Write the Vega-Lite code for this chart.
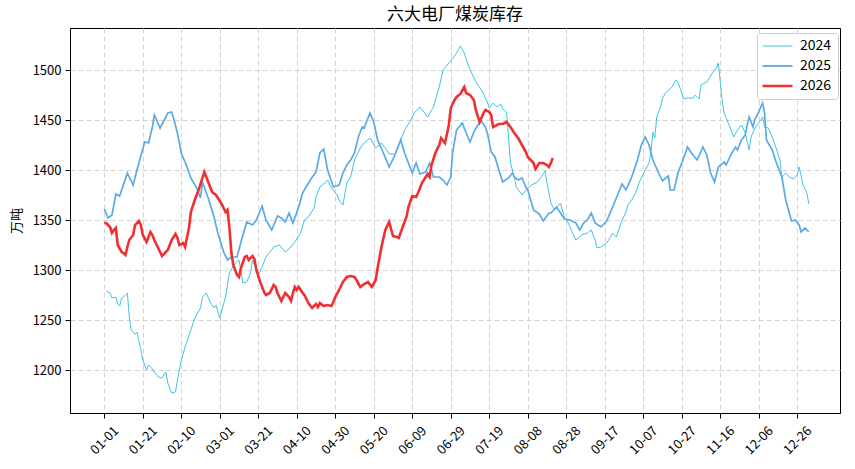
{
  "$schema": "https://vega.github.io/schema/vega-lite/v6.json",
  "width": 770,
  "height": 385,
  "autosize": "none",
  "padding": {"left": 70, "top": 28, "right": 15, "bottom": 56},
  "background": "white",
  "config": {
    "font": "Noto Sans CJK SC",
    "view": {"stroke": "black", "strokeWidth": 1}
  },
  "title": {"text": "六大电厂煤炭库存", "fontSize": 17, "fontWeight": "normal", "color": "black", "offset": 4},
  "data": {"values": [
    {"series":"2024","day":1,"value":1279},{"series":"2024","day":3,"value":1277},{"series":"2024","day":4,"value":1272},{"series":"2024","day":6,"value":1273},{"series":"2024","day":7,"value":1266},{"series":"2024","day":8,"value":1264},{"series":"2024","day":9,"value":1272},{"series":"2024","day":10,"value":1273},{"series":"2024","day":12,"value":1277},{"series":"2024","day":13,"value":1253},{"series":"2024","day":14,"value":1240},{"series":"2024","day":16,"value":1236},{"series":"2024","day":17,"value":1238},{"series":"2024","day":19,"value":1220},{"series":"2024","day":20,"value":1210},{"series":"2024","day":22,"value":1200},{"series":"2024","day":23,"value":1205},{"series":"2024","day":25,"value":1201},{"series":"2024","day":26,"value":1198},{"series":"2024","day":28,"value":1193},{"series":"2024","day":30,"value":1192},{"series":"2024","day":32,"value":1198},{"series":"2024","day":33,"value":1187},{"series":"2024","day":35,"value":1177},{"series":"2024","day":37,"value":1178},{"series":"2024","day":38,"value":1190},{"series":"2024","day":40,"value":1210},{"series":"2024","day":42,"value":1223},{"series":"2024","day":45,"value":1240},{"series":"2024","day":47,"value":1252},{"series":"2024","day":50,"value":1262},{"series":"2024","day":51,"value":1273},{"series":"2024","day":53,"value":1277},{"series":"2024","day":55,"value":1268},{"series":"2024","day":57,"value":1262},{"series":"2024","day":58,"value":1265},{"series":"2024","day":60,"value":1252},{"series":"2024","day":63,"value":1273},{"series":"2024","day":65,"value":1297},{"series":"2024","day":68,"value":1307},{"series":"2024","day":70,"value":1310},{"series":"2024","day":72,"value":1287},{"series":"2024","day":74,"value":1288},{"series":"2024","day":76,"value":1297},{"series":"2024","day":77,"value":1310},{"series":"2024","day":80,"value":1295},{"series":"2024","day":82,"value":1303},{"series":"2024","day":84,"value":1313},{"series":"2024","day":88,"value":1323},{"series":"2024","day":91,"value":1325},{"series":"2024","day":94,"value":1318},{"series":"2024","day":97,"value":1323},{"series":"2024","day":99,"value":1328},{"series":"2024","day":102,"value":1337},{"series":"2024","day":104,"value":1350},{"series":"2024","day":106,"value":1353},{"series":"2024","day":109,"value":1362},{"series":"2024","day":110,"value":1373},{"series":"2024","day":112,"value":1383},{"series":"2024","day":114,"value":1386},{"series":"2024","day":116,"value":1390},{"series":"2024","day":118,"value":1382},{"series":"2024","day":121,"value":1375},{"series":"2024","day":122,"value":1370},{"series":"2024","day":124,"value":1365},{"series":"2024","day":126,"value":1387},{"series":"2024","day":128,"value":1393},{"series":"2024","day":130,"value":1410},{"series":"2024","day":133,"value":1422},{"series":"2024","day":135,"value":1427},{"series":"2024","day":138,"value":1432},{"series":"2024","day":141,"value":1422},{"series":"2024","day":144,"value":1427},{"series":"2024","day":146,"value":1422},{"series":"2024","day":148,"value":1416},{"series":"2024","day":151,"value":1416},{"series":"2024","day":154,"value":1430},{"series":"2024","day":156,"value":1440},{"series":"2024","day":159,"value":1449},{"series":"2024","day":161,"value":1457},{"series":"2024","day":164,"value":1463},{"series":"2024","day":166,"value":1458},{"series":"2024","day":168,"value":1453},{"series":"2024","day":171,"value":1463},{"series":"2024","day":174,"value":1483},{"series":"2024","day":176,"value":1500},{"series":"2024","day":179,"value":1507},{"series":"2024","day":180,"value":1509},{"series":"2024","day":183,"value":1517},{"series":"2024","day":185,"value":1524},{"series":"2024","day":187,"value":1517},{"series":"2024","day":189,"value":1505},{"series":"2024","day":192,"value":1492},{"series":"2024","day":194,"value":1485},{"series":"2024","day":196,"value":1480},{"series":"2024","day":199,"value":1468},{"series":"2024","day":200,"value":1462},{"series":"2024","day":202,"value":1467},{"series":"2024","day":204,"value":1463},{"series":"2024","day":206,"value":1466},{"series":"2024","day":207,"value":1461},{"series":"2024","day":209,"value":1458},{"series":"2024","day":211,"value":1407},{"series":"2024","day":213,"value":1393},{"series":"2024","day":214,"value":1383},{"series":"2024","day":216,"value":1378},{"series":"2024","day":217,"value":1375},{"series":"2024","day":220,"value":1382},{"series":"2024","day":222,"value":1385},{"series":"2024","day":225,"value":1388},{"series":"2024","day":227,"value":1393},{"series":"2024","day":229,"value":1399},{"series":"2024","day":230,"value":1387},{"series":"2024","day":232,"value":1367},{"series":"2024","day":234,"value":1360},{"series":"2024","day":237,"value":1367},{"series":"2024","day":239,"value":1353},{"series":"2024","day":241,"value":1347},{"series":"2024","day":243,"value":1338},{"series":"2024","day":245,"value":1330},{"series":"2024","day":248,"value":1335},{"series":"2024","day":251,"value":1337},{"series":"2024","day":253,"value":1340},{"series":"2024","day":255,"value":1330},{"series":"2024","day":256,"value":1322},{"series":"2024","day":258,"value":1323},{"series":"2024","day":261,"value":1327},{"series":"2024","day":263,"value":1333},{"series":"2024","day":264,"value":1337},{"series":"2024","day":266,"value":1333},{"series":"2024","day":269,"value":1350},{"series":"2024","day":271,"value":1358},{"series":"2024","day":272,"value":1365},{"series":"2024","day":274,"value":1370},{"series":"2024","day":276,"value":1377},{"series":"2024","day":278,"value":1388},{"series":"2024","day":281,"value":1400},{"series":"2024","day":283,"value":1407},{"series":"2024","day":284,"value":1417},{"series":"2024","day":285,"value":1438},{"series":"2024","day":286,"value":1432},{"series":"2024","day":287,"value":1453},{"series":"2024","day":289,"value":1463},{"series":"2024","day":290,"value":1472},{"series":"2024","day":292,"value":1478},{"series":"2024","day":295,"value":1483},{"series":"2024","day":297,"value":1490},{"series":"2024","day":298,"value":1488},{"series":"2024","day":300,"value":1477},{"series":"2024","day":301,"value":1471},{"series":"2024","day":303,"value":1472},{"series":"2024","day":306,"value":1472},{"series":"2024","day":307,"value":1475},{"series":"2024","day":309,"value":1471},{"series":"2024","day":310,"value":1485},{"series":"2024","day":313,"value":1488},{"series":"2024","day":316,"value":1497},{"series":"2024","day":318,"value":1502},{"series":"2024","day":319,"value":1507},{"series":"2024","day":321,"value":1469},{"series":"2024","day":322,"value":1457},{"series":"2024","day":325,"value":1443},{"series":"2024","day":327,"value":1433},{"series":"2024","day":329,"value":1440},{"series":"2024","day":331,"value":1445},{"series":"2024","day":333,"value":1437},{"series":"2024","day":335,"value":1420},{"series":"2024","day":336,"value":1433},{"series":"2024","day":338,"value":1442},{"series":"2024","day":340,"value":1447},{"series":"2024","day":342,"value":1453},{"series":"2024","day":343,"value":1443},{"series":"2024","day":345,"value":1442},{"series":"2024","day":347,"value":1433},{"series":"2024","day":349,"value":1422},{"series":"2024","day":351,"value":1410},{"series":"2024","day":352,"value":1393},{"series":"2024","day":354,"value":1397},{"series":"2024","day":356,"value":1393},{"series":"2024","day":358,"value":1391},{"series":"2024","day":360,"value":1395},{"series":"2024","day":361,"value":1403},{"series":"2024","day":363,"value":1385},{"series":"2024","day":365,"value":1377},{"series":"2024","day":366,"value":1366},
    {"series":"2025","day":0,"value":1361},{"series":"2025","day":2,"value":1352},{"series":"2025","day":4,"value":1355},{"series":"2025","day":6,"value":1376},{"series":"2025","day":8,"value":1374},{"series":"2025","day":12,"value":1397},{"series":"2025","day":15,"value":1385},{"series":"2025","day":17,"value":1400},{"series":"2025","day":21,"value":1428},{"series":"2025","day":23,"value":1427},{"series":"2025","day":25,"value":1443},{"series":"2025","day":26,"value":1455},{"series":"2025","day":29,"value":1442},{"series":"2025","day":32,"value":1453},{"series":"2025","day":33,"value":1457},{"series":"2025","day":35,"value":1458},{"series":"2025","day":36,"value":1452},{"series":"2025","day":38,"value":1437},{"series":"2025","day":40,"value":1417},{"series":"2025","day":43,"value":1403},{"series":"2025","day":45,"value":1392},{"series":"2025","day":48,"value":1382},{"series":"2025","day":50,"value":1372},{"series":"2025","day":51,"value":1388},{"series":"2025","day":54,"value":1372},{"series":"2025","day":57,"value":1353},{"series":"2025","day":59,"value":1337},{"series":"2025","day":62,"value":1318},{"series":"2025","day":64,"value":1310},{"series":"2025","day":66,"value":1313},{"series":"2025","day":69,"value":1313},{"series":"2025","day":71,"value":1328},{"series":"2025","day":74,"value":1348},{"series":"2025","day":77,"value":1345},{"series":"2025","day":79,"value":1350},{"series":"2025","day":82,"value":1364},{"series":"2025","day":84,"value":1350},{"series":"2025","day":87,"value":1340},{"series":"2025","day":90,"value":1354},{"series":"2025","day":92,"value":1352},{"series":"2025","day":94,"value":1348},{"series":"2025","day":96,"value":1357},{"series":"2025","day":98,"value":1347},{"series":"2025","day":101,"value":1363},{"series":"2025","day":103,"value":1377},{"series":"2025","day":107,"value":1390},{"series":"2025","day":110,"value":1398},{"series":"2025","day":112,"value":1417},{"series":"2025","day":114,"value":1421},{"series":"2025","day":116,"value":1400},{"series":"2025","day":119,"value":1383},{"series":"2025","day":122,"value":1385},{"series":"2025","day":124,"value":1397},{"series":"2025","day":126,"value":1405},{"series":"2025","day":128,"value":1410},{"series":"2025","day":130,"value":1417},{"series":"2025","day":132,"value":1433},{"series":"2025","day":134,"value":1443},{"series":"2025","day":135,"value":1442},{"series":"2025","day":138,"value":1457},{"series":"2025","day":140,"value":1448},{"series":"2025","day":142,"value":1430},{"series":"2025","day":145,"value":1417},{"series":"2025","day":148,"value":1403},{"series":"2025","day":151,"value":1415},{"series":"2025","day":154,"value":1430},{"series":"2025","day":156,"value":1417},{"series":"2025","day":160,"value":1397},{"series":"2025","day":162,"value":1407},{"series":"2025","day":164,"value":1396},{"series":"2025","day":167,"value":1398},{"series":"2025","day":169,"value":1407},{"series":"2025","day":171,"value":1393},{"series":"2025","day":174,"value":1393},{"series":"2025","day":176,"value":1390},{"series":"2025","day":178,"value":1385},{"series":"2025","day":180,"value":1393},{"series":"2025","day":181,"value":1418},{"series":"2025","day":183,"value":1440},{"series":"2025","day":186,"value":1447},{"series":"2025","day":188,"value":1437},{"series":"2025","day":190,"value":1428},{"series":"2025","day":192,"value":1438},{"series":"2025","day":194,"value":1445},{"series":"2025","day":196,"value":1449},{"series":"2025","day":198,"value":1443},{"series":"2025","day":199,"value":1437},{"series":"2025","day":201,"value":1418},{"series":"2025","day":203,"value":1413},{"series":"2025","day":205,"value":1400},{"series":"2025","day":207,"value":1388},{"series":"2025","day":210,"value":1392},{"series":"2025","day":212,"value":1397},{"series":"2025","day":213,"value":1393},{"series":"2025","day":215,"value":1390},{"series":"2025","day":217,"value":1392},{"series":"2025","day":219,"value":1383},{"series":"2025","day":220,"value":1380},{"series":"2025","day":223,"value":1360},{"series":"2025","day":226,"value":1356},{"series":"2025","day":228,"value":1349},{"series":"2025","day":231,"value":1357},{"series":"2025","day":232,"value":1357},{"series":"2025","day":235,"value":1363},{"series":"2025","day":237,"value":1357},{"series":"2025","day":239,"value":1351},{"series":"2025","day":242,"value":1350},{"series":"2025","day":245,"value":1347},{"series":"2025","day":247,"value":1340},{"series":"2025","day":249,"value":1347},{"series":"2025","day":251,"value":1350},{"series":"2025","day":253,"value":1357},{"series":"2025","day":255,"value":1347},{"series":"2025","day":258,"value":1343},{"series":"2025","day":261,"value":1349},{"series":"2025","day":263,"value":1358},{"series":"2025","day":266,"value":1372},{"series":"2025","day":269,"value":1386},{"series":"2025","day":271,"value":1380},{"series":"2025","day":274,"value":1393},{"series":"2025","day":277,"value":1410},{"series":"2025","day":279,"value":1425},{"series":"2025","day":281,"value":1433},{"series":"2025","day":283,"value":1425},{"series":"2025","day":285,"value":1410},{"series":"2025","day":288,"value":1397},{"series":"2025","day":290,"value":1389},{"series":"2025","day":293,"value":1394},{"series":"2025","day":294,"value":1380},{"series":"2025","day":296,"value":1380},{"series":"2025","day":298,"value":1397},{"series":"2025","day":301,"value":1412},{"series":"2025","day":303,"value":1423},{"series":"2025","day":305,"value":1417},{"series":"2025","day":308,"value":1410},{"series":"2025","day":311,"value":1423},{"series":"2025","day":313,"value":1415},{"series":"2025","day":315,"value":1397},{"series":"2025","day":317,"value":1388},{"series":"2025","day":319,"value":1403},{"series":"2025","day":322,"value":1408},{"series":"2025","day":323,"value":1405},{"series":"2025","day":326,"value":1417},{"series":"2025","day":328,"value":1423},{"series":"2025","day":329,"value":1420},{"series":"2025","day":331,"value":1430},{"series":"2025","day":333,"value":1435},{"series":"2025","day":334,"value":1445},{"series":"2025","day":335,"value":1453},{"series":"2025","day":337,"value":1443},{"series":"2025","day":338,"value":1451},{"series":"2025","day":339,"value":1454},{"series":"2025","day":341,"value":1463},{"series":"2025","day":342,"value":1467},{"series":"2025","day":343,"value":1457},{"series":"2025","day":344,"value":1430},{"series":"2025","day":347,"value":1420},{"series":"2025","day":349,"value":1408},{"series":"2025","day":352,"value":1393},{"series":"2025","day":354,"value":1370},{"series":"2025","day":357,"value":1349},{"series":"2025","day":359,"value":1350},{"series":"2025","day":361,"value":1345},{"series":"2025","day":362,"value":1338},{"series":"2025","day":364,"value":1342},{"series":"2025","day":366,"value":1338},
    {"series":"2026","day":0,"value":1347},{"series":"2026","day":1,"value":1347},{"series":"2026","day":3,"value":1343},{"series":"2026","day":4,"value":1337},{"series":"2026","day":5,"value":1340},{"series":"2026","day":6,"value":1342},{"series":"2026","day":7,"value":1325},{"series":"2026","day":9,"value":1318},{"series":"2026","day":10,"value":1317},{"series":"2026","day":11,"value":1315},{"series":"2026","day":12,"value":1323},{"series":"2026","day":13,"value":1330},{"series":"2026","day":15,"value":1335},{"series":"2026","day":16,"value":1345},{"series":"2026","day":18,"value":1349},{"series":"2026","day":19,"value":1345},{"series":"2026","day":20,"value":1335},{"series":"2026","day":22,"value":1328},{"series":"2026","day":23,"value":1333},{"series":"2026","day":24,"value":1338},{"series":"2026","day":25,"value":1335},{"series":"2026","day":26,"value":1330},{"series":"2026","day":28,"value":1322},{"series":"2026","day":30,"value":1314},{"series":"2026","day":32,"value":1318},{"series":"2026","day":33,"value":1320},{"series":"2026","day":35,"value":1330},{"series":"2026","day":37,"value":1336},{"series":"2026","day":38,"value":1332},{"series":"2026","day":39,"value":1325},{"series":"2026","day":41,"value":1327},{"series":"2026","day":42,"value":1323},{"series":"2026","day":44,"value":1342},{"series":"2026","day":45,"value":1358},{"series":"2026","day":47,"value":1370},{"series":"2026","day":49,"value":1380},{"series":"2026","day":51,"value":1392},{"series":"2026","day":52,"value":1398},{"series":"2026","day":54,"value":1388},{"series":"2026","day":56,"value":1378},{"series":"2026","day":58,"value":1375},{"series":"2026","day":59,"value":1372},{"series":"2026","day":61,"value":1366},{"series":"2026","day":63,"value":1358},{"series":"2026","day":64,"value":1360},{"series":"2026","day":65,"value":1343},{"series":"2026","day":66,"value":1318},{"series":"2026","day":67,"value":1305},{"series":"2026","day":69,"value":1295},{"series":"2026","day":70,"value":1293},{"series":"2026","day":71,"value":1302},{"series":"2026","day":73,"value":1313},{"series":"2026","day":74,"value":1314},{"series":"2026","day":75,"value":1310},{"series":"2026","day":77,"value":1314},{"series":"2026","day":78,"value":1311},{"series":"2026","day":79,"value":1300},{"series":"2026","day":81,"value":1288},{"series":"2026","day":83,"value":1278},{"series":"2026","day":84,"value":1275},{"series":"2026","day":86,"value":1277},{"series":"2026","day":88,"value":1285},{"series":"2026","day":89,"value":1283},{"series":"2026","day":90,"value":1277},{"series":"2026","day":92,"value":1269},{"series":"2026","day":93,"value":1273},{"series":"2026","day":94,"value":1277},{"series":"2026","day":96,"value":1273},{"series":"2026","day":97,"value":1269},{"series":"2026","day":98,"value":1277},{"series":"2026","day":99,"value":1283},{"series":"2026","day":100,"value":1280},{"series":"2026","day":101,"value":1283},{"series":"2026","day":103,"value":1277},{"series":"2026","day":104,"value":1275},{"series":"2026","day":106,"value":1267},{"series":"2026","day":108,"value":1262},{"series":"2026","day":110,"value":1266},{"series":"2026","day":111,"value":1263},{"series":"2026","day":112,"value":1267},{"series":"2026","day":114,"value":1264},{"series":"2026","day":116,"value":1265},{"series":"2026","day":118,"value":1264},{"series":"2026","day":119,"value":1268},{"series":"2026","day":120,"value":1273},{"series":"2026","day":122,"value":1280},{"series":"2026","day":124,"value":1288},{"series":"2026","day":126,"value":1293},{"series":"2026","day":128,"value":1294},{"series":"2026","day":130,"value":1293},{"series":"2026","day":131,"value":1290},{"series":"2026","day":133,"value":1283},{"series":"2026","day":135,"value":1286},{"series":"2026","day":137,"value":1288},{"series":"2026","day":139,"value":1283},{"series":"2026","day":141,"value":1290},{"series":"2026","day":142,"value":1302},{"series":"2026","day":144,"value":1323},{"series":"2026","day":146,"value":1340},{"series":"2026","day":148,"value":1348},{"series":"2026","day":150,"value":1334},{"series":"2026","day":152,"value":1333},{"series":"2026","day":153,"value":1332},{"series":"2026","day":155,"value":1343},{"series":"2026","day":157,"value":1353},{"series":"2026","day":158,"value":1363},{"series":"2026","day":160,"value":1374},{"series":"2026","day":162,"value":1373},{"series":"2026","day":163,"value":1377},{"series":"2026","day":165,"value":1387},{"series":"2026","day":167,"value":1393},{"series":"2026","day":168,"value":1396},{"series":"2026","day":169,"value":1393},{"series":"2026","day":170,"value":1405},{"series":"2026","day":172,"value":1417},{"series":"2026","day":174,"value":1425},{"series":"2026","day":175,"value":1432},{"series":"2026","day":177,"value":1427},{"series":"2026","day":179,"value":1445},{"series":"2026","day":180,"value":1462},{"series":"2026","day":182,"value":1470},{"series":"2026","day":183,"value":1473},{"series":"2026","day":185,"value":1476},{"series":"2026","day":187,"value":1483},{"series":"2026","day":188,"value":1477},{"series":"2026","day":190,"value":1475},{"series":"2026","day":192,"value":1470},{"series":"2026","day":193,"value":1460},{"series":"2026","day":195,"value":1448},{"series":"2026","day":197,"value":1457},{"series":"2026","day":198,"value":1460},{"series":"2026","day":200,"value":1458},{"series":"2026","day":201,"value":1455},{"series":"2026","day":202,"value":1443},{"series":"2026","day":205,"value":1446},{"series":"2026","day":207,"value":1446},{"series":"2026","day":209,"value":1448},{"series":"2026","day":211,"value":1443},{"series":"2026","day":213,"value":1437},{"series":"2026","day":215,"value":1432},{"series":"2026","day":217,"value":1425},{"series":"2026","day":219,"value":1418},{"series":"2026","day":220,"value":1413},{"series":"2026","day":223,"value":1407},{"series":"2026","day":224,"value":1401},{"series":"2026","day":226,"value":1407},{"series":"2026","day":228,"value":1407},{"series":"2026","day":230,"value":1405},{"series":"2026","day":231,"value":1403},{"series":"2026","day":232,"value":1407},{"series":"2026","day":233,"value":1412}
  ]},
  "encoding": {
    "x": {
      "field": "day", "type": "quantitative",
      "scale": {"domain": [-17.8, 382.2], "nice": false, "zero": false},
      "axis": {
        "title": null,
        "values": [0,20,40,60,80,100,120,140,160,180,200,220,240,260,280,300,320,340,360],
        "labelExpr": "timeFormat(datetime(2024,0,1+datum.value),'%m-%d')",
        "labelAngle": -45, "labelAlign": "center", "labelBaseline": "middle",
        "labelPadding": 22, "labelFontSize": 13, "labelColor": "black",
        "tickSize": 5, "tickColor": "black", "domainColor": "black",
        "grid": true, "gridDash": [5, 3], "gridColor": "#d3d3d3"
      }
    },
    "y": {
      "field": "value", "type": "quantitative",
      "scale": {"domain": [1157, 1542], "nice": false, "zero": false},
      "axis": {
        "title": "万吨", "titleFontSize": 13, "titleFontWeight": "normal", "titleColor": "black", "titlePadding": 9,
        "values": [1200,1250,1300,1350,1400,1450,1500], "format": "d",
        "labelFontSize": 13, "labelColor": "black", "labelPadding": 4,
        "tickSize": 5, "tickColor": "black", "domainColor": "black",
        "grid": true, "gridDash": [5, 3], "gridColor": "#d3d3d3"
      }
    },
    "color": {
      "field": "series", "type": "nominal",
      "scale": {"domain": ["2024", "2025", "2026"], "range": ["#40c4e4", "#5aaae6", "#f03030"]},
      "legend": {
        "title": null, "orient": "none", "legendX": 687, "legendY": 5,
        "symbolType": "M-1,0L3,0", "symbolSize": 225,
        "labelFontSize": 14, "labelColor": "black", "labelOffset": 23, "rowPadding": 6,
        "fillColor": "white", "strokeColor": "#cccccc", "cornerRadius": 3, "padding": 6,
        "encode": {"symbols": {"update": {"strokeWidth": {"signal": "datum.value === '2026' ? 2.5 : datum.value === '2025' ? 1.8 : 1"}}}}
      }
    }
  },
  "layer": [
    {
      "transform": [{"filter": {"field": "series", "equal": "2024"}}],
      "mark": {"type": "line", "strokeWidth": 1, "clip": true}
    },
    {
      "transform": [{"filter": {"field": "series", "equal": "2025"}}],
      "mark": {"type": "line", "strokeWidth": 1.7, "clip": true}
    },
    {
      "transform": [{"filter": {"field": "series", "equal": "2026"}}],
      "mark": {"type": "line", "strokeWidth": 2.6, "clip": true}
    }
  ]
}
